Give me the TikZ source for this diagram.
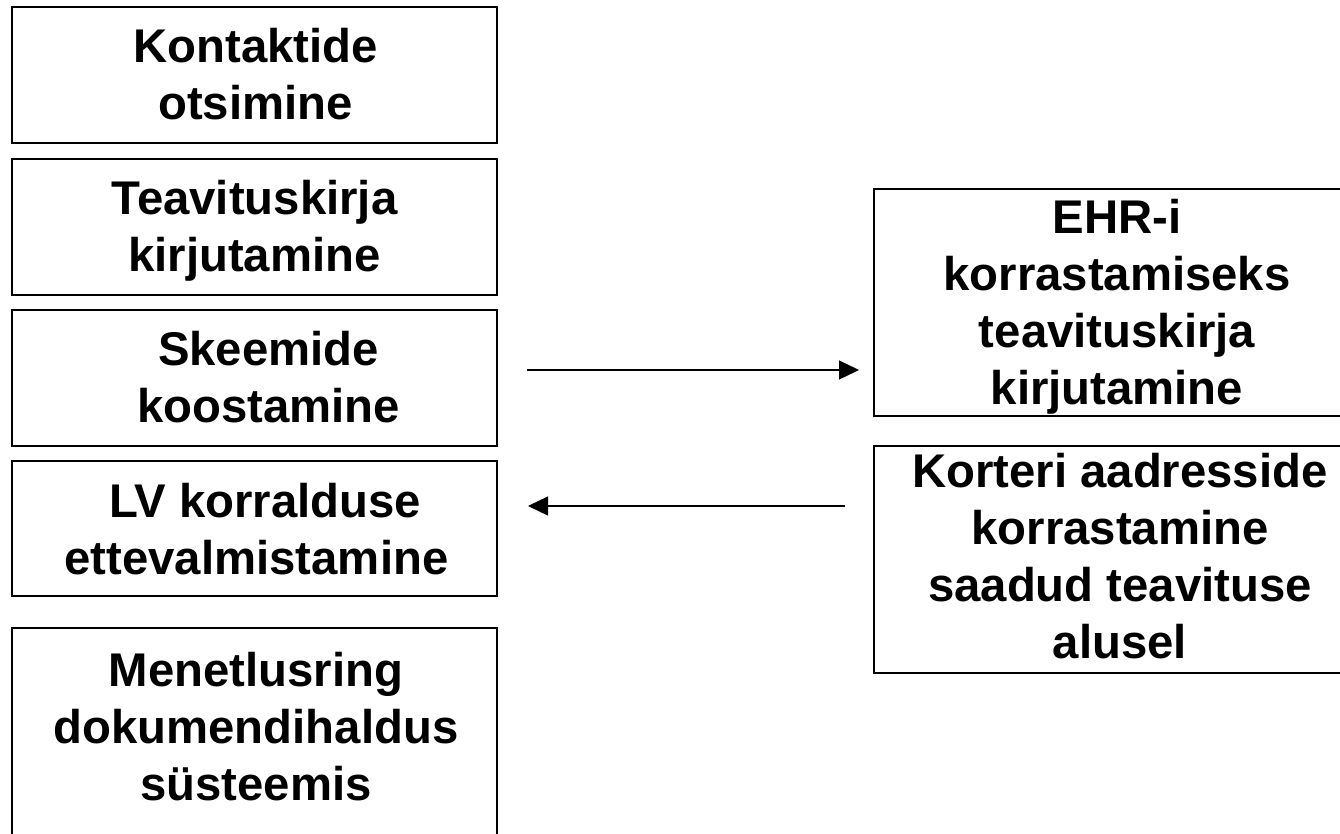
\documentclass[tikz,border=0pt]{standalone}
\usepackage{fontspec}
\setmainfont{Liberation Sans}
\usetikzlibrary{arrows.meta}
\begin{document}
\begin{tikzpicture}[x=1pt,y=-1pt,
  box/.style={draw=black, line width=1.6pt, rectangle, outer sep=0pt, inner sep=0pt},
  lbl/.style={align=center, inner sep=0pt, anchor=north, font=\fontsize{47.3}{57}\selectfont\bfseries},
  arr/.style={line width=1.3pt, -{Triangle[length=20pt,width=19pt]}}]
\useasboundingbox (0,0) rectangle (1340,834);
% left column
\node[box, minimum width=485pt, minimum height=136pt] (b1) at (254.5,75) {};
\node[box, minimum width=485pt, minimum height=136pt] (b2) at (254.5,227) {};
\node[box, minimum width=485pt, minimum height=136pt] (b3) at (254.5,378) {};
\node[box, minimum width=485pt, minimum height=135pt] (b4) at (254.5,528.5) {};
\node[box, minimum width=485pt, minimum height=232pt] (b5) at (254.5,744) {};
% right column
\node[box, minimum width=488pt, minimum height=227pt] (b6) at (1118,302.5) {};
\node[box, minimum width=488pt, minimum height=227pt] (b7) at (1118,559.5) {};
% texts
\node[lbl] (t1) at (255.5,28) {Kontaktide\\otsimine};
\node[lbl] (t2) at (254.5,180) {Teavituskirja\\kirjutamine};
\node[lbl] (t3) at (268.5,331) {Skeemide\\koostamine};
\node[lbl] (t4) at (256.5,483) {\hspace*{17pt}LV korralduse\\ettevalmistamine};
\node[lbl] (t5) at (256,652) {Menetlusring\\dokumendihaldus\\süsteemis};
\node[lbl] (t6) at (1117,199) {EHR-i\\korrastamiseks\\teavituskirja\\kirjutamine};
\node[lbl] (t7) at (1120,453) {Korteri aadresside\\korrastamine\\saadud teavituse\\alusel};
% arrows
\coordinate (ra) at (0,370);
\coordinate (la) at (0,506);
\draw[arr, shorten <=30pt, shorten >=15pt] (b3.east |- ra) -- (b6.west |- ra);
\draw[arr, shorten <=29pt, shorten >=31pt] (b7.west |- la) -- (b4.east |- la);
\end{tikzpicture}
\end{document}
